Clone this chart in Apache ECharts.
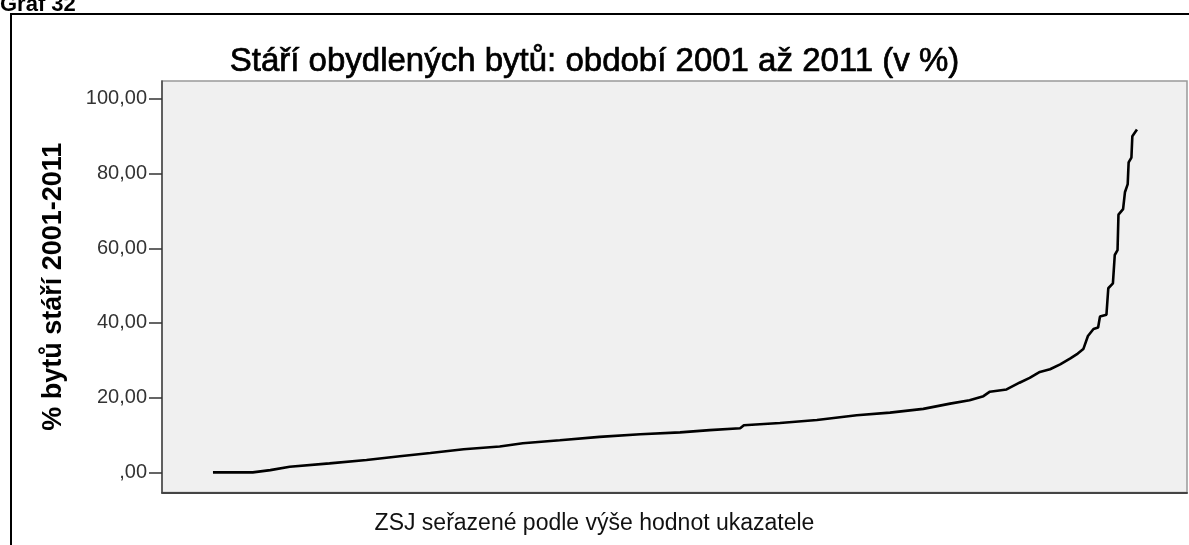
<!DOCTYPE html>
<html>
<head>
<meta charset="utf-8">
<title>Stáří obydlených bytů</title>
<script src="https://cdn.jsdelivr.net/npm/echarts@6/dist/echarts.min.js"></script>
<style>
  html, body { margin: 0; padding: 0; background: #fff; }
  #chart { width: 1189px; height: 545px; }
</style>
</head>
<body>
<div id="chart"></div>
<script>
// Rank of the ZSJ (sorted ascending by the indicator, 1..1000)
const ranks = [
  1, 44, 63, 84, 127, 167, 203, 236, 272, 311,
  336, 376, 419, 463, 506, 538, 571, 575, 614, 654,
  697, 733, 769, 798, 819, 834, 841, 859, 873, 884,
  895, 906, 917, 928, 936, 942, 947, 953, 958, 960,
  967, 969, 974, 976, 979, 980, 985, 987, 990, 991,
  994, 995, 1000
];
// Share of dwellings built 2001-2011 (%)
const shares = [
  0.0, 0.0, 0.6, 1.5, 2.4, 3.3, 4.3, 5.2, 6.2, 6.9,
  7.8, 8.6, 9.5, 10.2, 10.7, 11.3, 11.8, 12.6, 13.2, 14.0,
  15.3, 16.0, 17.0, 18.4, 19.3, 20.4, 21.6, 22.2, 24.0, 25.3,
  26.9, 27.6, 28.9, 30.5, 31.8, 33.0, 36.5, 38.4, 38.8, 41.7,
  42.2, 49.3, 50.6, 58.2, 59.5, 69.0, 70.5, 75.0, 77.2, 83.0,
  84.3, 90.0, 91.8
];
const yTickValues = [0, 20, 40, 60, 80, 100];
const yTickLabels = [',00', '20,00', '40,00', '60,00', '80,00', '100,00'];

const seriesData = ranks.map((r, i) => [r, shares[i]]);
const FONT = '"Liberation Sans", Arial, sans-serif';

const chart = echarts.init(document.getElementById('chart'), null, { renderer: 'canvas' });
chart.setOption({
  animation: false,
  backgroundColor: '#ffffff',
  title: [
    {
      text: 'Stáří obydlených bytů: období 2001 až 2011 (v %)',
      left: 'center', top: 45, padding: 0,
      textStyle: {
        fontFamily: FONT, fontSize: 33, fontWeight: 'normal', color: '#000',
        textBorderColor: '#000', textBorderWidth: 0.7
      }
    },
    {
      text: 'ZSJ seřazené podle výše hodnot ukazatele',
      left: 'center', top: 512, padding: 0,
      textStyle: { fontFamily: FONT, fontSize: 23, fontWeight: 'normal', color: '#111' }
    },
    {
      text: 'Graf 32',
      left: 0, top: -6, padding: 0,
      textStyle: { fontFamily: FONT, fontSize: 22, fontWeight: 'bold', color: '#000' }
    }
  ],
  graphic: [
    {
      type: 'rect',
      shape: { x: 11, y: 14, width: 1400, height: 800 },
      style: { fill: null, stroke: '#000', lineWidth: 2 },
      silent: true
    }
  ],
  grid: {
    left: 162, top: 81, right: 2, bottom: 52.5,
    show: true,
    backgroundColor: '#f0f0f0',
    borderColor: '#999',
    borderWidth: 1.5
  },
  xAxis: {
    type: 'value',
    min: -54.1, max: 1054.1,
    axisLine: { show: true, onZero: false, lineStyle: { color: '#444', width: 2 } },
    axisTick: { show: false },
    axisLabel: { show: false },
    splitLine: { show: false }
  },
  yAxis: {
    type: 'value',
    min: -5.4, max: 104.8,
    name: '% bytů stáří 2001-2011',
    nameLocation: 'middle',
    nameGap: 95,
    nameTextStyle: { fontFamily: FONT, fontSize: 27, fontWeight: 'bold', color: '#000' },
    axisLine: { show: true, onZero: false, lineStyle: { color: '#444', width: 1.5 } },
    axisTick: {
      show: true, length: 13, customValues: yTickValues,
      lineStyle: { color: '#333', width: 1.5 }
    },
    axisLabel: {
      customValues: yTickValues,
      margin: 15,
      fontFamily: FONT, fontSize: 20, color: '#333',
      formatter: v => yTickLabels[yTickValues.indexOf(v)]
    },
    splitLine: { show: false }
  },
  series: [
    {
      type: 'line',
      data: seriesData,
      showSymbol: false,
      smooth: false,
      lineStyle: { color: '#000', width: 2.6 }
    }
  ]
});
</script>
</body>
</html>
